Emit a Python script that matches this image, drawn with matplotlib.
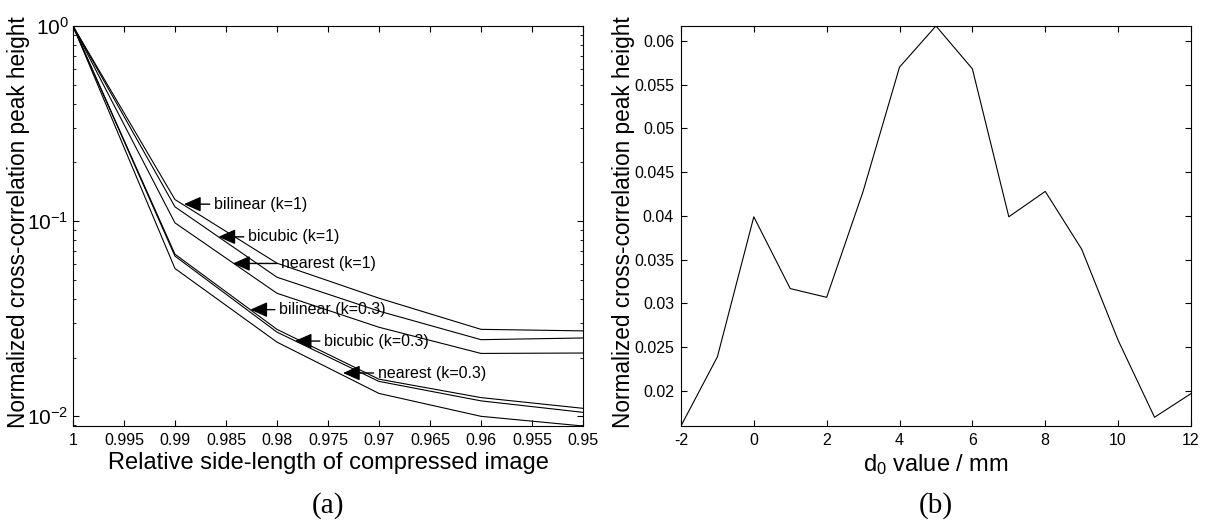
import matplotlib
matplotlib.use("Agg")
import matplotlib.pyplot as plt
from matplotlib.ticker import FormatStrFormatter, MultipleLocator

# ---- data: panel (a) ----
side_len = [1.0, 0.99, 0.98, 0.97, 0.96, 0.95]
bilinear_k1 = [1.0, 0.129, 0.0609, 0.0403, 0.0279, 0.0274]
bicubic_k1 = [1.0, 0.1184, 0.0516, 0.0346, 0.0247, 0.0252]
nearest_k1 = [1.0, 0.0980, 0.0427, 0.0286, 0.0210, 0.0211]
bilinear_k03 = [1.0, 0.0677, 0.0279, 0.0155, 0.01247, 0.01099]
bicubic_k03 = [1.0, 0.0662, 0.0270, 0.0151, 0.0120, 0.01048]
nearest_k03 = [1.0, 0.0572, 0.0240, 0.0131, 0.0100, 0.00892]

labels_a = ["bilinear (k=1)", "bicubic (k=1)", "nearest (k=1)",
            "bilinear (k=0.3)", "bicubic (k=0.3)", "nearest (k=0.3)"]
# arrow tip and text start (data coords)
arrow_tip = [(0.98912, 0.1222), (0.98574, 0.0831), (0.98431, 0.0607),
             (0.98261, 0.0352), (0.97826, 0.0243), (0.97353, 0.01667)]
text_x = [0.98618, 0.98284, 0.97956, 0.9798, 0.97539, 0.97012]

# ---- data: panel (b) ----
d0 = [-2, -1, 0, 1, 2, 3, 4, 5, 6, 7, 8, 9, 10, 11, 12]
peak = [0.0160, 0.0239, 0.0399, 0.0317, 0.0307, 0.0428, 0.0570, 0.0617,
        0.0568, 0.0399, 0.0428, 0.0362, 0.0258, 0.0170, 0.0197]

plt.rcParams["font.family"] = ["Liberation Sans", "DejaVu Sans"]
plt.rcParams["axes.unicode_minus"] = False
plt.rcParams["xtick.direction"] = "in"
plt.rcParams["ytick.direction"] = "in"
plt.rcParams["xtick.top"] = True
plt.rcParams["ytick.right"] = True

fig = plt.figure(figsize=(12.08, 5.29), dpi=100)
ax1 = fig.add_axes([0.0604, 0.1947, 0.4222, 0.7562])
ax2 = fig.add_axes([0.5637, 0.1947, 0.4222, 0.7562])

# ========== panel (a) ==========
for series in [bilinear_k1, bicubic_k1, nearest_k1,
               bilinear_k03, bicubic_k03, nearest_k03]:
    ax1.plot(side_len, series, color="black", linewidth=0.8)
ax1.set_yscale("log")
ax1.set_xlim(1.0, 0.95)
ax1.set_ylim(min(nearest_k03), 1.0)
ax1.set_xticks([1, 0.995, 0.99, 0.985, 0.98, 0.975, 0.97, 0.965, 0.96, 0.955, 0.95])
ax1.set_xticklabels(["1", "0.995", "0.99", "0.985", "0.98", "0.975", "0.97",
                     "0.965", "0.96", "0.955", "0.95"])
for lab, tip, tx in zip(labels_a, arrow_tip, text_x):
    ax1.annotate(lab, xy=tip, xytext=(tx, tip[1]), fontsize=11.5,
                 ha="left", va="center",
                 arrowprops=dict(arrowstyle="-|>,head_length=0.9,head_width=0.4",
                                 color="black", lw=1, shrinkA=1, shrinkB=0))
ax1.set_xlabel("Relative side-length of compressed image", fontsize=17, labelpad=3)
ax1.set_ylabel("Normalized cross-correlation peak height", fontsize=16.3)
ax1.yaxis.set_label_coords(-0.084, 0.51)

# ========== panel (b) ==========
ax2.plot(d0, peak, color="black", linewidth=0.8)
ax2.set_xlim(-2, 12)
ax2.set_ylim(min(peak), max(peak))
ax2.xaxis.set_major_locator(MultipleLocator(2))
ax2.yaxis.set_major_locator(MultipleLocator(0.005))
ax2.yaxis.set_major_formatter(FormatStrFormatter("%g"))
ax2.set_xlabel(r"$\mathregular{d_0}$ value / mm", fontsize=17, labelpad=3)
ax2.set_ylabel("Normalized cross-correlation peak height", fontsize=16.3)
ax2.yaxis.set_label_coords(-0.09, 0.51)

for ax in (ax1, ax2):
    ax.tick_params(which="major", length=4, width=0.8, labelsize=11.5, pad=5)
    ax.tick_params(which="minor", length=2.5, width=0.6)
    for sp in ax.spines.values():
        sp.set_linewidth(0.8)
ax1.tick_params(axis="y", which="major", labelsize=15, pad=3)

fig.text(0.2715, 0.045, "(a)", fontsize=21, family="Liberation Serif", ha="center", va="center")
fig.text(0.7748, 0.045, "(b)", fontsize=21, family="Liberation Serif", ha="center", va="center")

fig.savefig("out.png", dpi=100)
